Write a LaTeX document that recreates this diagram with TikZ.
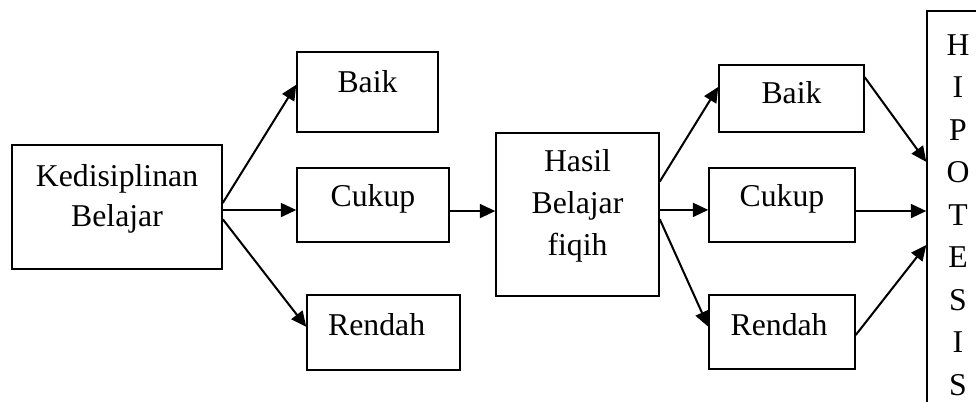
\documentclass[tikz,border=0pt]{standalone}
\usepackage{fontspec}
\setmainfont{Liberation Serif}
\usetikzlibrary{calc,arrows.meta}
\newcommand\pxu{0.345pt}
\newcommand\lines[2]{\vbox{\baselineskip=#1\relax\halign{\hfil##\hfil\cr#2\crcr}}}
\tikzset{
  box/.style={draw, line width=0.5pt, inner sep=0pt, text depth=0pt,
    font=\fontsize{10.95}{13.8}\selectfont},
  arr/.style={line width=0.7pt, -{Triangle[length=5.3pt,width=4.8pt]}}
}
\begin{document}
\begin{tikzpicture}[x=0.345pt, y=-0.345pt]
\useasboundingbox (0,0) rectangle (976,401);
\begin{scope}
\clip (0,0) rectangle (976,401);
\node[box, minimum width=210*\pxu, minimum height=124*\pxu, text height=13.6pt] (K) at (117,207) {\lines{13.8pt}{Kedisiplinan\cr Belajar}};
\node[box, minimum width=141*\pxu, minimum height=80*\pxu, text height=0pt] (B1) at (367.5,92) {Baik};
\node[box, minimum width=152*\pxu, minimum height=74*\pxu, text height=1.17pt] (C1) at (373,205) {Cukup};
\node[box, minimum width=153*\pxu, minimum height=75*\pxu, text height=1.73pt] (R1) at (383.5,332.5) {Rendah\hspace*{4.7pt}};
\node[box, minimum width=163*\pxu, minimum height=163*\pxu, text height=27.95pt] (H) at (577.5,214.5) {\lines{14.37pt}{Hasil\cr Belajar\cr fiqih}};
\node[box, minimum width=145*\pxu, minimum height=67*\pxu, text height=3.31pt] (B2) at (791.5,98.5) {Baik};
\node[box, minimum width=146*\pxu, minimum height=74*\pxu, text height=1.17pt] (C2) at (782,205) {Cukup};
\node[box, minimum width=146*\pxu, minimum height=74*\pxu, text height=2.07pt] (R2) at (782,332) {Rendah\hspace*{2pt}};
\node[box, minimum width=62*\pxu, minimum height=404*\pxu, text height=125.6pt] (HIP) at (958,213) {\lines{14.66pt}{H\cr I\cr P\cr O\cr T\cr E\cr S\cr I\cr S}};
\end{scope}
% start points of the horizontal connectors
\coordinate (kc) at ($(K.north east)!0.524!(K.south east)$);
\coordinate (cc) at ($(C1.north east)!0.58!(C1.south east)$);
\coordinate (hc) at ($(H.north east)!0.472!(H.south east)$);
\coordinate (c2c) at ($(C2.north east)!0.58!(C2.south east)$);
% connectors
\draw[arr] ($(K.north east)!0.468!(K.south east)$) -- ($(B1.north west)!0.41!(B1.south west)$);
\draw[arr] (kc) -- (kc -| C1.west);
\draw[arr] ($(K.north east)!0.597!(K.south east)$) -- ($(R1.north west)!0.427!(R1.south west)$);
\draw[arr] (cc) -- (cc -| H.west);
\draw[arr] ($(H.north east)!0.30!(H.south east)$) -- ($(B2.north west)!0.33!(B2.south west)$);
\draw[arr] (hc) -- (hc -| C2.west);
\draw[arr] ($(H.north east)!0.528!(H.south east)$) -- ($(R2.north west)!0.43!(R2.south west)$);
\draw[arr] ($(B2.north east)!0.19!(B2.south east)$) -- ($(HIP.north west)!0.374!(HIP.south west)$);
\draw[arr] (c2c) -- (c2c -| HIP.west);
\draw[arr] ($(R2.north east)!0.54!(R2.south east)$) -- ($(HIP.north west)!0.579!(HIP.south west)$);
\end{tikzpicture}
\end{document}
